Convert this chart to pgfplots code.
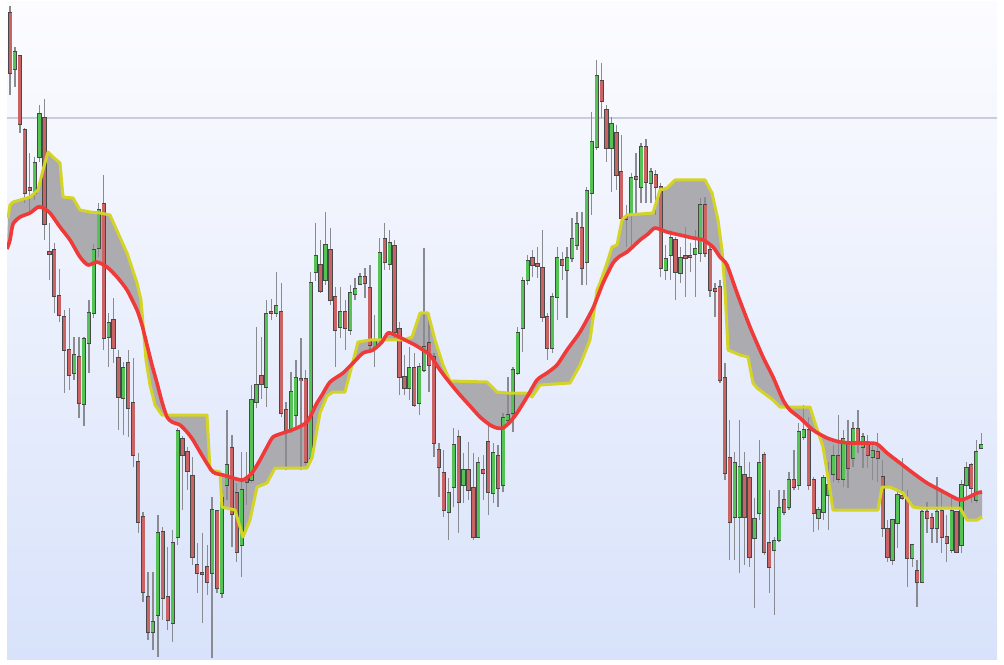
\documentclass[border=0pt]{standalone}
\usepackage{pgfplots}
\pgfplotsset{compat=1.18}
\usepackage{pgfplotstable}
\usepgfplotslibrary{fillbetween}
\definecolor{bgtop}{RGB}{252,252,255}
\definecolor{bgbot}{RGB}{216,226,250}
\definecolor{wick}{RGB}{138,138,145}
\definecolor{outl}{RGB}{72,72,72}
\definecolor{cgreen}{RGB}{84,194,84}
\definecolor{cred}{RGB}{202,100,100}
\definecolor{maline}{RGB}{240,58,58}
\definecolor{yline}{RGB}{212,212,40}
\definecolor{band}{RGB}{172,172,176}
\definecolor{hline}{RGB}{202,205,220}
\pgfplotstableread{
i o h l c
0 13 6 95 73
1 69 47 87 52
2 56 55 133 124
3 130 128 203 193
4 188 153 213 190
5 193 157 200 163
6 157 105 162 114
7 118 99 240 224
8 252 223 280 254
9 250 243 313 296
10 296 269 322 315
11 317 310 393 350
12 350 308 390 375
13 373 337 380 355
14 357 337 418 403
15 404 337 426 339
16 343 300 373 313
17 313 244 318 250
18 248 203 257 210
19 204 175 350 338
20 337 313 367 323
21 320 298 363 348
22 358 350 430 397
23 398 362 435 368
24 363 350 437 408
25 403 358 467 455
26 462 453 533 522
27 517 512 602 592
28 597 572 640 632
29 632 572 650 622
30 615 515 657 533
31 532 527 620 598
32 597 547 630 620
33 623 530 642 543
34 537 428 545 431
35 439 436 510 455
36 452 447 490 471
37 476 457 565 557
38 565 543 593 573
39 573 533 623 574
40 567 545 595 582
41 573 497 658 510
42 511 510 593 588
43 593 490 598 498
44 485 410 500 465
45 448 435 547 514
46 493 483 562 552
47 545 452 577 490
48 478 452 505 482
49 480 385 483 400
50 402 327 408 385
51 376 337 399 384
52 387 300 407 314
53 312 299 320 313
54 313 272 317 306
55 312 283 417 413
56 410 402 470 430
57 430 372 433 392
58 415 360 430 378
59 379 338 470 380
60 379 370 465 462
61 458 272 460 283
62 272 223 281 256
63 265 240 293 291
64 280 212 285 245
65 250 228 305 300
66 297 287 367 330
67 327 287 338 312
68 312 300 350 328
69 330 285 335 293
70 294 278 300 289
71 284 273 285 277
72 277 268 298 283
73 288 265 353 345
74 347 315 367 340
75 340 238 345 253
76 239 223 270 262
77 264 230 270 243
78 246 240 340 332
79 329 322 395 377
80 377 355 395 388
81 388 347 400 368
82 368 353 407 405
83 403 363 415 367
84 370 248 372 347
85 343 320 392 365
86 357 353 457 443
87 450 443 497 467
88 473 450 517 510
89 512 478 540 493
90 487 428 507 445
91 437 430 533 502
92 485 453 503 470
93 470 442 500 490
94 488 453 540 537
95 537 457 538 463
96 470 455 500 473
97 442 425 515 492
98 493 443 503 453
99 456 445 507 488
100 485 413 492 418
101 420 377 425 415
102 413 367 432 370
103 373 327 375 333
104 328 277 352 281
105 280 255 285 261
106 258 250 277 265
107 264 247 278 266
108 268 230 322 317
109 317 313 360 348
110 348 293 353 297
111 297 247 320 258
112 260 252 280 265
113 270 247 318 258
114 258 218 262 239
115 245 212 250 224
116 228 212 285 268
117 262 187 285 191
118 193 112 215 142
119 147 60 150 76
120 81 63 118 101
121 110 105 162 148
122 148 117 192 124
123 133 125 190 175
124 172 135 227 218
125 217 205 247 219
126 215 173 247 178
127 177 153 213 179
128 187 143 203 147
129 147 139 203 182
130 183 168 203 172
131 175 170 215 187
132 187 183 277 268
133 270 245 280 259
134 255 230 280 238
135 240 237 300 272
136 273 247 283 258
137 256 227 297 258
138 256 243 272 257
139 254 230 297 249
140 253 198 262 205
141 205 197 257 253
142 250 245 297 290
143 289 283 317 291
144 287 280 383 380
145 378 363 480 473
146 458 420 560 522
147 517 452 560 463
148 517 420 573 467
149 475 452 565 517
150 478 462 567 557
151 538 498 608 519
152 513 440 520 463
153 455 452 555 552
154 543 490 593 567
155 550 537 615 541
156 540 490 542 508
157 500 490 515 512
158 507 472 510 480
159 480 450 490 487
160 485 423 490 432
161 437 405 440 430
162 430 417 490 485
163 480 477 532 513
164 518 507 530 510
165 512 475 520 478
166 495 462 530 485
167 474 445 482 456
168 456 415 483 479
169 479 430 487 439
170 442 420 488 468
171 458 422 467 429
172 429 410 453 443
173 447 433 468 437
174 445 435 468 455
175 457 445 480 451
176 452 433 482 458
177 477 460 537 528
178 529 520 562 557
179 560 520 565 520
180 523 490 548 495
181 496 458 500 498
182 500 490 587 558
183 558 545 567 545
184 571 560 607 582
185 582 510 582 512
186 512 502 533 518
187 518 513 543 528
188 528 477 543 512
189 511 492 553 537
190 537 515 562 543
191 550 495 553 511
192 512 512 553 552
193 545 480 553 485
194 485 462 500 468
195 465 463 503 488
196 500 440 503 452
197 448 433 449 445
}\candles
\begin{document}
\begin{tikzpicture}
\path (0,0) rectangle (502pt,332pt);
\begin{axis}[at={(3.5pt,2.5pt)}, anchor=south west, scale only axis,
  width=495pt, height=328.5pt, xmin=7, xmax=997, ymin=2, ymax=659,
  y dir=reverse, axis line style={draw=none}, ticks=none,
  axis background/.style={shade, top color=bgtop, bottom color=bgbot}]
\addplot[hline, line width=0.75pt] coordinates {(7,118) (997,118)};
\addplot[draw=none, name path=ma] coordinates {
(7,249)(10,240)(13,224)(20,217)(30,213)(38,207)(43,208)(50,213)(60,227)(70,240)(80,257)(88,265)(97,262)(107,267)(117,277)(127,290)(137,310)(142,325)(147,345)(152,365)(157,383)(162,402)(167,417)(172,422)(180,425)(187,432)(193,440)(203,457)(213,472)(223,475)(233,478)(243,480)(252,473)(260,460)(267,447)(273,437)(283,433)(297,428)(307,422)(312,413)(317,403)(322,395)(330,382)(343,373)(353,363)(363,353)(373,350)(382,342)(388,333)(395,335)(405,340)(415,345)(423,350)(430,355)(440,370)(450,383)(460,395)(470,406)(480,417)(490,425)(497,428)(503,428)(510,422)(517,413)(527,397)(537,380)(547,373)(557,365)(567,350)(580,332)(593,308)(603,283)(613,263)(620,256)(627,252)(640,240)(648,234)(655,228)(667,232)(680,235)(693,238)(703,240)(713,247)(720,257)(727,265)(737,293)(750,327)(763,357)(773,377)(783,400)(790,410)(800,418)(813,430)(827,438)(840,442)(853,443)(867,443)(877,444)(887,453)(900,463)(913,473)(927,483)(940,490)(953,497)(960,500)(967,498)(977,493)(982,492)};
\addplot[draw=none, name path=yl] coordinates {
(8,218)(10,205)(13,202)(20,200)(30,197)(38,190)(43,170)(48,152)(53,157)(60,163)(63,197)(73,198)(80,210)(90,212)(100,213)(110,215)(118,233)(127,253)(137,283)(141,300)(146,360)(150,385)(155,405)(162,415)(207,415)(210,470)(220,472)(222,507)(235,510)(243,537)(250,520)(257,487)(267,483)(275,468)(307,468)(312,458)(320,413)(327,396)(333,392)(345,392)(350,373)(358,342)(370,340)(403,340)(412,337)(420,313)(428,313)(435,340)(443,365)(450,381)(487,382)(497,392)(507,393)(527,393)(532,397)(540,385)(570,383)(580,365)(590,340)(597,290)(600,283)(607,263)(612,247)(617,245)(622,220)(627,215)(653,213)(660,190)(667,188)(675,180)(705,180)(712,193)(718,220)(722,250)(725,290)(728,350)(740,355)(748,357)(753,383)(757,388)(773,400)(780,407)(810,407)(815,423)(823,447)(830,490)(833,510)(878,510)(882,487)(890,487)(903,493)(913,507)(920,508)(960,508)(967,520)(977,520)(982,517)};
\addplot[band] fill between[of=ma and yl];
% wicks
\addplot[draw=none, mark=none, error bars/.cd, y dir=both, y explicit, error mark=none,
  error bar style={line width=0.65pt, draw=wick}]
  table[x expr=10+4.93*\thisrow{i}, y expr=(\thisrow{h}+\thisrow{l})/2, y error expr=(\thisrow{l}-\thisrow{h})/2]{\candles};
% body outlines
\addplot[draw=none, mark=none, error bars/.cd, y dir=both, y explicit, error mark=none,
  error bar style={line width=2.1pt, draw=outl}]
  table[x expr=10+4.93*\thisrow{i}, y expr=(\thisrow{o}+\thisrow{c})/2, y error expr=abs(\thisrow{o}-\thisrow{c})/2+0.7]{\candles};
% green bodies
\addplot[draw=none, mark=none, error bars/.cd, y dir=both, y explicit, error mark=none,
  error bar style={line width=1.5pt, draw=cgreen}]
  table[x expr=10+4.93*\thisrow{i}, y expr={\thisrow{c}<=\thisrow{o} ? (\thisrow{o}+\thisrow{c})/2 : nan}, y error expr=abs(\thisrow{o}-\thisrow{c})/2]{\candles};
% red bodies
\addplot[draw=none, mark=none, error bars/.cd, y dir=both, y explicit, error mark=none,
  error bar style={line width=1.5pt, draw=cred}]
  table[x expr=10+4.93*\thisrow{i}, y expr={\thisrow{c}>\thisrow{o} ? (\thisrow{o}+\thisrow{c})/2 : nan}, y error expr=abs(\thisrow{o}-\thisrow{c})/2]{\candles};
\addplot[yline, line width=1.5pt, line join=round] coordinates {
(8,218)(10,205)(13,202)(20,200)(30,197)(38,190)(43,170)(48,152)(53,157)(60,163)(63,197)(73,198)(80,210)(90,212)(100,213)(110,215)(118,233)(127,253)(137,283)(141,300)(146,360)(150,385)(155,405)(162,415)(207,415)(210,470)(220,472)(222,507)(235,510)(243,537)(250,520)(257,487)(267,483)(275,468)(307,468)(312,458)(320,413)(327,396)(333,392)(345,392)(350,373)(358,342)(370,340)(403,340)(412,337)(420,313)(428,313)(435,340)(443,365)(450,381)(487,382)(497,392)(507,393)(527,393)(532,397)(540,385)(570,383)(580,365)(590,340)(597,290)(600,283)(607,263)(612,247)(617,245)(622,220)(627,215)(653,213)(660,190)(667,188)(675,180)(705,180)(712,193)(718,220)(722,250)(725,290)(728,350)(740,355)(748,357)(753,383)(757,388)(773,400)(780,407)(810,407)(815,423)(823,447)(830,490)(833,510)(878,510)(882,487)(890,487)(903,493)(913,507)(920,508)(960,508)(967,520)(977,520)(982,517)};
\addplot[maline, line width=1.8pt, line join=round, smooth, tension=0.4] coordinates {
(7,249)(10,240)(13,224)(20,217)(30,213)(38,207)(43,208)(50,213)(60,227)(70,240)(80,257)(88,265)(97,262)(107,267)(117,277)(127,290)(137,310)(142,325)(147,345)(152,365)(157,383)(162,402)(167,417)(172,422)(180,425)(187,432)(193,440)(203,457)(213,472)(223,475)(233,478)(243,480)(252,473)(260,460)(267,447)(273,437)(283,433)(297,428)(307,422)(312,413)(317,403)(322,395)(330,382)(343,373)(353,363)(363,353)(373,350)(382,342)(388,333)(395,335)(405,340)(415,345)(423,350)(430,355)(440,370)(450,383)(460,395)(470,406)(480,417)(490,425)(497,428)(503,428)(510,422)(517,413)(527,397)(537,380)(547,373)(557,365)(567,350)(580,332)(593,308)(603,283)(613,263)(620,256)(627,252)(640,240)(648,234)(655,228)(667,232)(680,235)(693,238)(703,240)(713,247)(720,257)(727,265)(737,293)(750,327)(763,357)(773,377)(783,400)(790,410)(800,418)(813,430)(827,438)(840,442)(853,443)(867,443)(877,444)(887,453)(900,463)(913,473)(927,483)(940,490)(953,497)(960,500)(967,498)(977,493)(982,492)};
\end{axis}
\end{tikzpicture}
\end{document}
